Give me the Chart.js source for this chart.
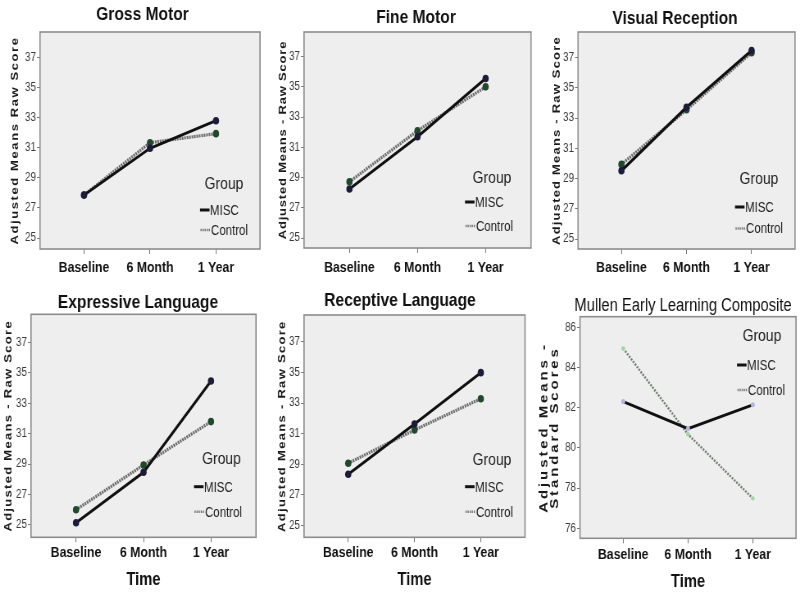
<!DOCTYPE html>
<html><head><meta charset="utf-8">
<script src="https://cdn.jsdelivr.net/npm/chart.js@4.4.1/dist/chart.umd.min.js"></script>
<style>
html,body{margin:0;padding:0;background:#fff;width:800px;height:594px;overflow:hidden;position:relative}
canvas{position:absolute;transform-origin:0 0;}
</style></head><body>
<script>
// ---- data ----
const categories = ['Baseline', '6 Month', '1 Year'];
const rawTicks = [25, 27, 29, 31, 33, 35, 37];
const mullenTicks = [76, 78, 80, 82, 84, 86];
const seriesNames = ['MISC', 'Control'];

const grossMISC = [27.86, 30.96, 32.79];
const grossControl = [27.85, 31.33, 31.93];
const fineMISC = [28.24, 31.70, 35.55];
const fineControl = [28.72, 32.10, 35.00];
const visualMISC = [29.52, 33.72, 37.48];
const visualControl = [29.94, 33.55, 37.33];
const expressiveMISC = [25.15, 28.46, 34.46];
const expressiveControl = [26.00, 28.94, 31.79];
const receptiveMISC = [28.35, 31.63, 34.98];
const receptiveControl = [29.07, 31.24, 33.28];
const mullenMISC = [82.31, 80.96, 82.15];
const mullenControl = [84.96, 80.68, 77.49];

// ---- layout ----
const F = 0.82; // horizontal squeeze of the reference
const FONT = '"Liberation Sans", Arial, Helvetica, sans-serif';

const panels = [
  {title:'Gross Motor', tcx:142.5, tcy:14.5, tw:'bold', ts:19, yTitle:'Adjusted Means Raw Score', ysz:13, ylh:1.2, ytx:15, ls:1.6,
   misc:grossMISC, control:grossControl, ticks:rawTicks, ymin:24.27, ymax:38.68,
   L:0, T:0, W:268, H:285, a:[40,260,32,249], xpad:4.5, time:false, small:false,
   leg:{gcx:224, gcy:184, sx:200, my:210, cy:230}},
  {title:'Fine Motor', tcx:416, tcy:17.5, tw:'bold', ts:19, yTitle:'Adjusted Means - Raw Score', ysz:13, ylh:1.2, ytx:283, ls:0.8,
   misc:fineMISC, control:fineControl, ticks:rawTicks, ymin:24.34, ymax:38.63,
   L:268, T:0, W:268, H:285, a:[304,531,32,248], xpad:5.5, time:false, small:false,
   leg:{gcx:492, gcy:178, sx:465, my:202, cy:226}},
  {title:'Visual Reception', tcx:675, tcy:18.5, tw:'bold', ts:19, yTitle:'Adjusted Means - Raw Score', ysz:13, ylh:1.2, ytx:557, ls:1.2,
   misc:visualMISC, control:visualControl, ticks:rawTicks, ymin:24.34, ymax:38.70,
   L:536, T:0, W:264, H:285, a:[578,795,32,249], xpad:4.5, time:false, small:false,
   leg:{gcx:759, gcy:179.5, sx:735, my:207, cy:228.5}},
  {title:'Expressive Language', tcx:138, tcy:302.5, tw:'bold', ts:19, yTitle:'Adjusted Means - Raw Score', ysz:13, ylh:1.2, ytx:8.5, ls:1.3,
   misc:expressiveMISC, control:expressiveControl, ticks:rawTicks, ymin:24.19, ymax:38.84,
   L:0, T:285, W:268, H:309, a:[31,256,314.3,537.3], xpad:1.7, time:true, tpad:3.2, small:false,
   leg:{gcx:221.5, gcy:459.5, sx:194, my:486.7, cy:511.7}},
  {title:'Receptive Language', tcx:400, tcy:300.5, tw:'bold', ts:19, yTitle:'Adjusted Means - Raw Score', ysz:13, ylh:1.2, ytx:282, ls:1.3,
   misc:receptiveMISC, control:receptiveControl, ticks:rawTicks, ymin:24.24, ymax:38.74,
   L:268, T:285, W:268, H:309, a:[304,525,315,537.3], xpad:1.7, time:true, tpad:3.2, small:false,
   leg:{gcx:492, gcy:460, sx:465, my:486.7, cy:511.7}},
  {title:'Mullen Early Learning Composite', tcx:683, tcy:306.5, tw:'normal', ts:18, yTitle:['Adjusted Means -','Standard Scores'], ysz:15, ylh:0.9, ytx:544, ls:2.9,
   misc:mullenMISC, control:mullenControl, ticks:mullenTicks, ymin:75.5, ymax:86.54,
   L:536, T:285, W:264, H:309, a:[580,796,316.7,538.3], xpad:2.5, time:true, tpad:1.2, small:true,
   leg:{gcx:762, gcy:336, sx:737, my:365, cy:390}}
];

const panelPlugin = {
  id: 'panelDeco',
  beforeDraw(chart) {
    const {ctx, chartArea: a} = chart;
    ctx.save();
    ctx.fillStyle = '#eeeeee';
    ctx.fillRect(a.left, a.top, a.right - a.left, a.bottom - a.top);
    ctx.restore();
  },
  afterDraw(chart) {
    const p = chart.options.plugins.panelDeco;
    const {ctx, chartArea: a} = chart;
    const X = v => (v - p.L) / F, Y = v => v - p.T;
    ctx.save();
    ctx.strokeStyle = '#8c8c8c';
    ctx.lineWidth = 1.6;
    ctx.strokeRect(a.left, a.top, a.right - a.left, a.bottom - a.top);
    // title
    ctx.fillStyle = '#111';
    ctx.textAlign = 'center';
    ctx.textBaseline = 'middle';
    ctx.font = `${p.tw} ${p.ts}px ${FONT}`;
    ctx.fillText(p.title, X(p.tcx), Y(p.tcy));
    // legend
    const g = p.leg;
    ctx.font = `normal 17px ${FONT}`;
    ctx.fillStyle = '#222';
    ctx.fillText('Group', X(g.gcx), Y(g.gcy));
    ctx.textAlign = 'left';
    ctx.font = `normal 14px ${FONT}`;
    // MISC swatch
    ctx.strokeStyle = '#111'; ctx.lineWidth = 3; ctx.setLineDash([]);
    ctx.beginPath(); ctx.moveTo(X(g.sx), Y(g.my)); ctx.lineTo(X(g.sx + 9.5), Y(g.my)); ctx.stroke();
    ctx.fillText(seriesNames[0], X(g.sx + 10), Y(g.my + 1.5));
    // Control swatch
    ctx.strokeStyle = '#777'; ctx.lineWidth = 2.5; ctx.setLineDash([1.5, 1]);
    ctx.beginPath(); ctx.moveTo(X(g.sx + 0.5), Y(g.cy)); ctx.lineTo(X(g.sx + 10.5), Y(g.cy)); ctx.stroke();
    ctx.setLineDash([]);
    ctx.fillText(seriesNames[1], X(g.sx + 11), Y(g.cy + 1));
    ctx.restore();
  }
};

panels.forEach((p, idx) => {
  const cw = Math.round(p.W / F);
  const cv = document.createElement('canvas');
  cv.width = cw; cv.height = p.H;
  cv.style.left = p.L + 'px'; cv.style.top = p.T + 'px';
  cv.style.width = cw + 'px'; cv.style.height = p.H + 'px';
  cv.style.transform = `scaleX(${F})`;
  document.body.appendChild(cv);

  const areaL = (p.a[0] - p.L) / F, areaR = (p.a[1] - p.L) / F;
  const areaT = p.a[2] - p.T, areaB = p.a[3] - p.T;
  const ylhPx = p.ysz * p.ylh;
  const yTitlePad = (p.ytx - p.L) / F - ylhPx / 2;

  const mk = (arr) => categories.map((c, i) => ({x: i, y: arr[i]}));
  const datasets = [
    {label: seriesNames[0], data: mk(p.misc), borderColor: '#111', borderWidth: 3,
     pointRadius: p.small ? 2.5 : 3.8, pointBackgroundColor: p.small ? '#b4b4dc' : '#1c1c3a',
     pointBorderWidth: 0, pointBorderColor: 'transparent', tension: 0, order: 0},
    {label: seriesNames[1], data: mk(p.control), borderColor: p.small ? '#6f7c6f' : '#6a6a6a',
     borderWidth: p.small ? 2.4 : 3.2, borderDash: p.small ? [2, 1.5] : [2, 1],
     pointRadius: p.small ? 2.2 : 3.8, pointBackgroundColor: p.small ? '#9fd69f' : '#1e4a2a',
     pointBorderWidth: 0, pointBorderColor: 'transparent', tension: 0, order: 1}
  ];

  new Chart(cv, {
    type: 'line',
    data: {datasets},
    options: {
      responsive: false, animation: false, devicePixelRatio: 1,
      layout: {padding: {left: 0, top: areaT, right: cw - areaR, bottom: 0}},
      plugins: {
        legend: {display: false}, tooltip: {enabled: false}, title: {display: false},
        panelDeco: p
      },
      scales: {
        x: {
          type: 'linear', min: -0.667, max: 2.667,
          afterBuildTicks: s => { s.ticks = categories.map((c, i) => ({value: i})); },
          afterFit: s => { s.height = p.H - areaB; },
          ticks: {autoSkip: false, maxRotation: 0, padding: p.xpad, color: '#111',
                  font: {family: FONT, size: 15, weight: 'bold'},
                  callback: v => categories[v] ?? ''},
          grid: {display: true, drawOnChartArea: false, drawTicks: true, tickLength: 5, color: '#777', lineWidth: 1},
          border: {display: false},
          title: {display: p.time, text: 'Time', color: '#111', padding: {top: 0, bottom: p.tpad || 0},
                  font: {family: FONT, size: 18, weight: 'bold'}}
        },
        y: {
          type: 'linear', min: p.ymin, max: p.ymax,
          afterBuildTicks: s => { s.ticks = p.ticks.map(v => ({value: v})); },
          afterFit: s => {
            s.width = areaL;
            if (!s._lsWrapped) {
              const orig = s.drawTitle;
              s.drawTitle = function () {
                const c = this.ctx; c.save(); c.letterSpacing = p.ls + 'px'; orig.call(this); c.restore();
              };
              s._lsWrapped = true;
            }
          },
          ticks: {padding: 1.2, color: '#3a3a3a', font: {family: FONT, size: 12}},
          grid: {display: true, drawOnChartArea: false, drawTicks: true, tickLength: 3.7, color: '#777', lineWidth: 1},
          border: {display: false},
          title: {display: true, text: p.yTitle, color: '#1a1a1a', padding: {top: yTitlePad, bottom: 0},
                  font: {family: FONT, size: p.ysz, weight: 'bold', lineHeight: p.ylh}}
        }
      }
    },
    plugins: [panelPlugin]
  });
});
</script>
</body></html>
